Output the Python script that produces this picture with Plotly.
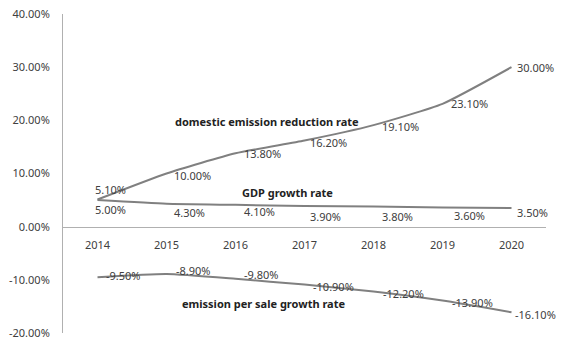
import plotly.graph_objects as go

years = ["2014", "2015", "2016", "2017", "2018", "2019", "2020"]
domestic = [5.10, 10.00, 13.80, 16.20, 19.10, 23.10, 30.00]
gdp = [5.00, 4.30, 4.10, 3.90, 3.80, 3.60, 3.50]
emission_sale = [-9.50, -8.90, -9.80, -10.90, -12.20, -13.90, -16.10]
y_ticks = [-20, -10, 0, 10, 20, 30, 40]

# label offsets (pixels: right, down) relative to each point
dom_off = [(-5, -10), (5, 2), (6, 0), (3, 2), (6, 1), (6, 0), (3, 0)]
gdp_off = [(-5, 9), (5, 9), (6, 7), (3, 11), (6, 10), (9, 8), (3, 4)]
emi_off = [(6, -2), (7, -3), (6, -4), (6, 2), (7, 2), (7, 2), (1, 2)]

FONT = "Noto Sans"
LINE = "#808080"
TXT = "#404040"

fig = go.Figure()
for vals, offs in ((domestic, dom_off), (gdp, gdp_off), (emission_sale, emi_off)):
    fig.add_trace(go.Scatter(
        x=years, y=[v / 100 for v in vals], mode="lines",
        line=dict(color=LINE, width=2, shape="spline", smoothing=0.5),
        showlegend=False, hoverinfo="skip"))
    for i, (v, (dx, dy)) in enumerate(zip(vals, offs)):
        fig.add_annotation(x=i, y=v / 100, text=f"{v:.2f}%", showarrow=False,
                           xanchor="left", yanchor="middle",
                           xshift=dx, yshift=-dy,
                           font=dict(family=FONT, size=11, color=TXT))

names = [
    ("domestic emission reduction rate", 2.45, 0.197),
    ("GDP growth rate", 2.75, 0.064),
    ("emission per sale growth rate", 2.4, -0.145),
]
for t, x, y in names:
    fig.add_annotation(x=x, y=y, text=f"<b>{t}</b>", showarrow=False,
                       font=dict(family=FONT, size=11, color="#222222"))

fig.update_layout(
    width=564, height=341,
    margin=dict(l=63, r=18, t=14, b=8, autoexpand=False),
    paper_bgcolor="white", plot_bgcolor="white",
    font=dict(family=FONT, size=11, color=TXT),
)
fig.update_xaxes(
    type="category", range=[-0.5, 6.5],
    anchor="free", position=1/3, automargin=False,
    showline=True, linecolor="#b0b0b0", linewidth=1,
    showgrid=False, zeroline=False,
    ticks="", ticklabelstandoff=8,
    tickfont=dict(family=FONT, size=11, color=TXT),
)
fig.update_yaxes(
    range=[-0.2, 0.4], automargin=False,
    tickvals=[v / 100 for v in y_ticks],
    ticktext=[f"{v:.2f}%" for v in y_ticks],
    showline=True, linecolor="#b0b0b0", linewidth=1,
    showgrid=False, zeroline=False,
    ticks="", ticklabelstandoff=10,
    tickfont=dict(family=FONT, size=11, color=TXT),
)

fig.write_html("out.html")
